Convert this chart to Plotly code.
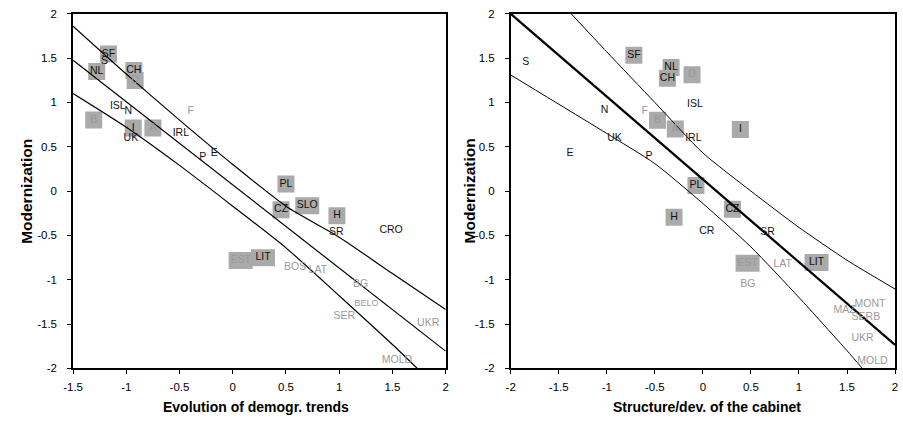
import plotly.graph_objects as go

# ---------------- data: left panel ----------------
L_names = ["SF", "S", "NL", "CH", "D", "ISL", "N", "F", "B", "I", "UK", "A", "IRL", "P", "E",
           "PL", "SLO", "CZ", "H", "SR", "CRO", "EST", "LIT", "BOS", "LAT", "BG", "BELO", "SER", "UKR", "MOLD"]
L_x = [-1.167, -1.204, -1.278, -0.929, -0.917, -1.08, -0.981, -0.395, -1.306, -0.935, -0.957, -0.75, -0.488, -0.281, -0.173,
       0.50, 0.70, 0.454, 0.979, 0.972, 1.488, 0.074, 0.284, 0.586, 0.80, 1.20, 1.256, 1.049, 1.836, 1.543]
L_y = [1.545, 1.46, 1.35, 1.36, 1.247, 0.956, 0.90, 0.894, 0.803, 0.711, 0.598, 0.711, 0.646, 0.383, 0.42,
       0.081, -0.164, -0.211, -0.278, -0.46, -0.448, -0.783, -0.752, -0.857, -0.893, -1.05, -1.276, -1.415, -1.488, -1.907]
L_gray = ["D", "F", "B", "A", "EST", "BOS", "LAT", "BG", "BELO", "SER", "UKR", "MOLD"]
L_boxed = ["SF", "NL", "CH", "D", "B", "I", "A", "PL", "SLO", "CZ", "H", "EST", "LIT"]

L_upper_x = [-1.5, -1.0, -0.5, 0.0, 0.5, 1.0, 1.5, 2.0]
L_upper_y = [1.86, 1.32, 0.80, 0.30, -0.17, -0.52, -0.93, -1.335]
L_mid_x = [-1.5, 2.0]
L_mid_y = [1.475, -1.805]
L_lower_x = [-1.5, -1.0, -0.5, 0.0, 0.5, 1.0, 1.5, 1.734]
L_lower_y = [1.10, 0.72, 0.29, -0.17, -0.64, -1.18, -1.73, -2.0]

# ---------------- data: right panel ----------------
R_names = ["S", "SF", "NL", "CH", "D", "ISL", "N", "F", "B", "A", "I", "UK", "IRL", "E", "P",
           "PL", "H", "CZ", "CR", "SR", "EST", "LAT", "LIT", "BG", "MAZ", "MONT", "SERB", "UKR", "MOLD"]
R_x = [-1.843, -0.718, -0.331, -0.369, -0.113, -0.082, -1.022, -0.605, -0.472, -0.287, 0.39, -0.92, -0.099, -1.382, -0.561,
       -0.072, -0.30, 0.308, 0.04, 0.672, 0.465, 0.83, 1.183, 0.468, 1.474, 1.74, 1.696, 1.662, 1.764]
R_y = [1.449, 1.532, 1.394, 1.273, 1.313, 0.974, 0.905, 0.90, 0.799, 0.70, 0.694, 0.591, 0.591, 0.42, 0.39,
       0.062, -0.295, -0.204, -0.45, -0.463, -0.813, -0.831, -0.806, -1.055, -1.342, -1.28, -1.422, -1.663, -1.918]
R_gray = ["D", "F", "B", "A", "EST", "LAT", "BG", "MAZ", "MONT", "SERB", "UKR", "MOLD"]
R_boxed = ["SF", "NL", "CH", "D", "B", "A", "I", "PL", "H", "CZ", "EST", "LIT"]

R_upper_x = [-1.37, -1.0, -0.5, 0.0, 0.5, 1.0, 1.5, 2.0]
R_upper_y = [2.0, 1.57, 1.0, 0.43, 0.0, -0.41, -0.78, -1.105]
R_mid_x = [-2.0, 2.0]
R_mid_y = [2.0, -1.735]
R_lower_x = [-2.0, -1.5, -1.0, -0.5, 0.0, 0.5, 1.0, 1.5, 1.66]
R_lower_y = [1.31, 0.98, 0.65, 0.31, -0.14, -0.63, -1.20, -1.80, -2.0]

L_xticks = [-1.5, -1, -0.5, 0, 0.5, 1, 1.5, 2]
R_xticks = [-2, -1.5, -1, -0.5, 0, 0.5, 1, 1.5, 2]
Y_ticks = [-2, -1.5, -1, -0.5, 0, 0.5, 1, 1.5, 2]

L_xtitle = "Evolution of demogr. trends"
R_xtitle = "Structure/dev. of the cabinet"
Y_title = "Modernization"

# ---------------- styling ----------------
W, H = 903, 423
BOX = "#aaaaaa"
GRAY = "#999999"
BLACK = "#111111"
LABEL_FONT = "Liberation Sans, Arial, sans-serif"
TICK_FONT = "Liberation Sans Narrow, Arial Narrow, Liberation Sans, sans-serif"


def fmt(v):
    return "%g" % v


fig = go.Figure()


def add_panel(names, xs, ys, grays, boxed, lines, xa, ya):
    for lx, ly, lw in lines:
        fig.add_trace(go.Scatter(x=lx, y=ly, mode="lines", xaxis=xa, yaxis=ya,
                                 line=dict(color="black", width=lw, shape="spline", smoothing=0.6),
                                 hoverinfo="skip", showlegend=False))
    colors = [GRAY if n in grays else BLACK for n in names]
    sizes = [9 if n == "BELO" else 10.5 for n in names]
    fig.add_trace(go.Scatter(x=xs, y=ys, mode="text", text=names, xaxis=xa, yaxis=ya,
                             textposition="middle center", cliponaxis=False,
                             textfont=dict(family=LABEL_FONT, size=sizes, color=colors),
                             hoverinfo="skip", showlegend=False))
    for n, x, y in zip(names, xs, ys):
        if n in boxed:
            w = 24 if len(n) >= 3 else 17
            fig.add_shape(type="rect", xref=xa, yref=ya, xsizemode="pixel", ysizemode="pixel",
                          xanchor=x, yanchor=y, x0=-w / 2, x1=w / 2, y0=-8.5, y1=8.5,
                          fillcolor=BOX, line=dict(width=0), layer="below")


add_panel(L_names, L_x, L_y, L_gray, L_boxed,
          [(L_upper_x, L_upper_y, 1.2), (L_mid_x, L_mid_y, 1.2), (L_lower_x, L_lower_y, 1.2)], "x", "y")
add_panel(R_names, R_x, R_y, R_gray, R_boxed,
          [(R_upper_x, R_upper_y, 1.0), (R_mid_x, R_mid_y, 2.2), (R_lower_x, R_lower_y, 1.0)], "x2", "y2")

axis_common = dict(showline=True, mirror=True, linecolor="black", linewidth=1.5,
                   ticks="outside", ticklen=4, tickwidth=1, tickcolor="black",
                   showgrid=False, zeroline=False,
                   tickfont=dict(family=TICK_FONT, size=11.5, color="black"))
xt = dict(ticklabelstandoff=3)
yt = dict(ticklabelstandoff=8)

ydom = [1 - 373 / H, 1 - 8 / H]
fig.update_layout(
    width=W, height=H, margin=dict(l=0, r=0, t=0, b=0),
    paper_bgcolor="white", plot_bgcolor="white", showlegend=False,
    xaxis=dict(domain=[64 / W, 442 / W], range=[-1.5, 2], anchor="y",
               tickvals=L_xticks, ticktext=[fmt(v) for v in L_xticks], **xt, **axis_common),
    yaxis=dict(domain=ydom, range=[-2, 2], anchor="x",
               tickvals=Y_ticks, ticktext=[fmt(v) for v in Y_ticks], **yt, **axis_common),
    xaxis2=dict(domain=[508 / W, 898 / W], range=[-2, 2], anchor="y2",
                tickvals=R_xticks, ticktext=[fmt(v) for v in R_xticks], **xt, **axis_common),
    yaxis2=dict(domain=ydom, range=[-2, 2], anchor="x2",
                tickvals=Y_ticks, ticktext=[fmt(v) for v in Y_ticks], **yt, **axis_common),
)

title_font_x = dict(family=LABEL_FONT, size=14, color="black", weight="bold")
title_font_y = dict(family=LABEL_FONT, size=15.5, color="black", weight="bold")
ymid = 1 - 190.5 / H
for txt, px in [(L_xtitle, 250), (R_xtitle, 707)]:
    fig.add_annotation(text=txt, xref="paper", yref="paper", x=px / W, y=1 - 413 / H,
                       xanchor="center", yanchor="middle", showarrow=False, font=title_font_x)
for px in [16, 466]:
    fig.add_annotation(text=Y_title, xref="paper", yref="paper", x=px / W, y=ymid, textangle=-90,
                       xanchor="center", yanchor="middle", showarrow=False, font=title_font_y)

fig.write_html("out.html")
